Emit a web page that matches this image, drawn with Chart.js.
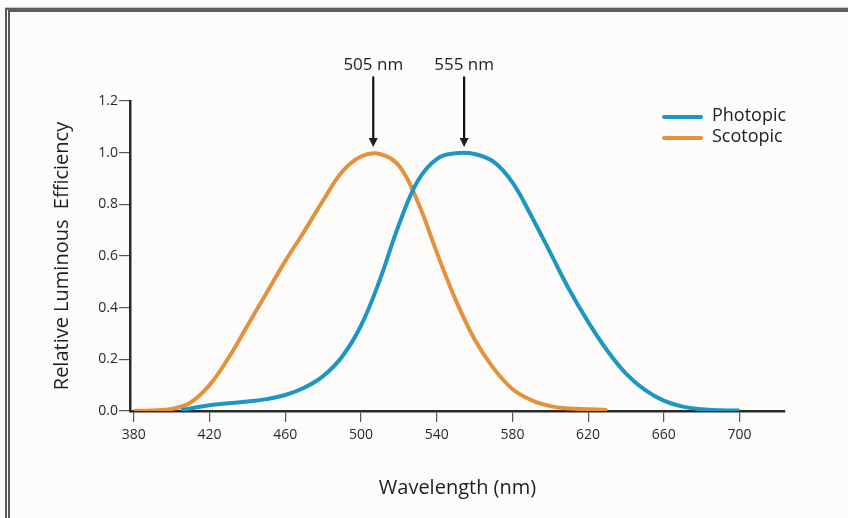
<!DOCTYPE html>
<html>
<head>
<meta charset="utf-8">
<script src="https://cdn.jsdelivr.net/npm/chart.js@4/dist/chart.umd.min.js"></script>
<style>
  html, body { margin: 0; padding: 0; background: #fdfcfb; overflow: hidden; }
  #wrap { position: relative; width: 848px; height: 518px; }
  #frame {
    position: absolute; left: 5px; top: 8px; right: -10px; bottom: -10px;
    border-top: 4px solid #5d5d5d; border-left: 5px double #5a5a5a;
    box-shadow: 0 -1px 0 #c8c8c8;
  }
  canvas { position: absolute; left: 0; top: 0; }
</style>
</head>
<body>
<div id="wrap">
  <div id="frame"></div>
  <canvas id="lumChart" width="848" height="518"></canvas>
</div>
<script>
// wavelength (nm) / relative efficiency
const scotopicNm = [380, 390, 400, 410, 420, 430, 440, 450, 460, 470, 480, 490, 500, 510, 520, 530, 540, 550, 560, 570, 580, 590, 600, 610, 620, 630];
const scotopicVal = [0, 0.002, 0.008, 0.033, 0.10, 0.205, 0.33, 0.455, 0.58, 0.695, 0.815, 0.925, 0.985, 0.995, 0.95, 0.81, 0.615, 0.43, 0.278, 0.166, 0.085, 0.042, 0.019, 0.01, 0.007, 0.004];

const photopicNm = [405, 410, 420, 430, 440, 450, 460, 470, 480, 490, 500, 510, 520, 530, 540, 550, 560, 570, 580, 590, 600, 610, 620, 630, 640, 650, 660, 670, 680, 690, 700];
const photopicVal = [0.003, 0.01, 0.022, 0.03, 0.037, 0.046, 0.062, 0.09, 0.135, 0.21, 0.33, 0.508, 0.72, 0.89, 0.975, 0.998, 0.995, 0.965, 0.885, 0.755, 0.613, 0.47, 0.345, 0.235, 0.145, 0.082, 0.04, 0.017, 0.007, 0.003, 0.002];

const xTicks = [380, 420, 460, 500, 540, 580, 620, 660, 700];
const yTicks = [0, 0.2, 0.4, 0.6, 0.8, 1.0, 1.2];

const peakAt = [506.5, 554.5];
const peakLabels = ['505 nm', '555 nm'];

const seriesNames = ['Photopic', 'Scotopic'];
const seriesColors = ['#1c96c5', '#e2923c'];

const toPoints = (xs, ys) => xs.map((x, i) => ({ x: x, y: ys[i] }));

const fontFamily = '"Open Sans", "DejaVu Sans", sans-serif';

// arrows with labels + legend in the top right corner
const extras = {
  id: 'extras',
  afterDatasetsDraw(chart) {
    const ctx = chart.ctx;
    const xs = chart.scales.x, ys = chart.scales.y;
    ctx.save();
    ctx.fillStyle = '#1e1e1e';
    ctx.strokeStyle = '#111';
    ctx.textAlign = 'center';
    ctx.textBaseline = 'middle';
    ctx.font = '17px ' + fontFamily;
    peakAt.forEach((nm, i) => {
      const px = xs.getPixelForValue(nm);
      const top = ys.getPixelForValue(1.295);
      const tip = ys.getPixelForValue(1.022);
      ctx.fillText(peakLabels[i], px, top - 11);
      ctx.lineWidth = 2.2;
      ctx.beginPath();
      ctx.moveTo(px, top);
      ctx.lineTo(px, tip - 6);
      ctx.stroke();
      ctx.beginPath();
      ctx.moveTo(px - 4.5, tip - 9);
      ctx.lineTo(px + 4.5, tip - 9);
      ctx.lineTo(px, tip);
      ctx.closePath();
      ctx.fill();
    });

    ctx.textAlign = 'left';
    ctx.font = '18px ' + fontFamily;
    const lx = chart.chartArea.right - 121;
    seriesNames.forEach((name, i) => {
      const ly = chart.chartArea.top + 16 + i * 21;
      ctx.strokeStyle = seriesColors[i];
      ctx.lineWidth = 4;
      ctx.lineCap = 'round';
      ctx.beginPath();
      ctx.moveTo(lx, ly);
      ctx.lineTo(lx + 37, ly);
      ctx.stroke();
      ctx.fillStyle = '#222';
      ctx.fillText(name, lx + 48, ly - 1);
    });
    ctx.restore();
  }
};

const ctxLum = document.getElementById('lumChart').getContext('2d');
const lumChart = new Chart(ctxLum, {
  type: 'line',
  data: {
    datasets: [{
      label: seriesNames[0],
      data: toPoints(photopicNm, photopicVal),
      borderColor: seriesColors[0],
      borderWidth: 4,
      pointRadius: 0,
      tension: 0.4,
      fill: false
    }, {
      label: seriesNames[1],
      data: toPoints(scotopicNm, scotopicVal),
      borderColor: seriesColors[1],
      borderWidth: 4,
      pointRadius: 0,
      tension: 0.4,
      fill: false
    }]
  },
  options: {
    responsive: false,
    animation: false,
    layout: {
      padding: { left: 0, top: 101, right: 63, bottom: 0 }
    },
    plugins: {
      legend: { display: false },
      tooltip: { enabled: false }
    },
    scales: {
      x: {
        type: 'linear',
        min: 378,
        max: 724,
        afterFit: (scale) => { scale.height = 107; },
        afterBuildTicks: (scale) => { scale.ticks = xTicks.map(v => ({ value: v })); },
        border: { color: '#2a2a2a', width: 2.5 },
        grid: { drawOnChartArea: false, tickLength: 11, color: '#555', lineWidth: 1.2 },
        ticks: {
          color: '#2a2a2a',
          padding: 5,
          maxRotation: 0,
          font: { family: fontFamily, size: 14 }
        },
        title: {
          display: true,
          text: 'Wavelength (nm)',
          color: '#1e1e1e',
          padding: { bottom: 18 },
          font: { family: fontFamily, size: 20 }
        }
      },
      y: {
        min: 0,
        max: 1.2,
        afterFit: (scale) => { scale.width = 130; },
        afterBuildTicks: (scale) => { scale.ticks = yTicks.map(v => ({ value: v })); },
        border: { color: '#2a2a2a', width: 2.5 },
        grid: { drawOnChartArea: false, tickLength: 11, color: '#555', lineWidth: 1.2 },
        ticks: {
          color: '#2a2a2a',
          padding: 1,
          font: { family: fontFamily, size: 14 },
          callback: (v) => v.toFixed(1)
        },
        title: {
          display: true,
          text: 'Relative Luminous  Efficiency',
          color: '#1e1e1e',
          padding: { top: 50 },
          font: { family: fontFamily, size: 20 }
        }
      }
    }
  },
  plugins: [extras]
});
</script>
</body>
</html>
